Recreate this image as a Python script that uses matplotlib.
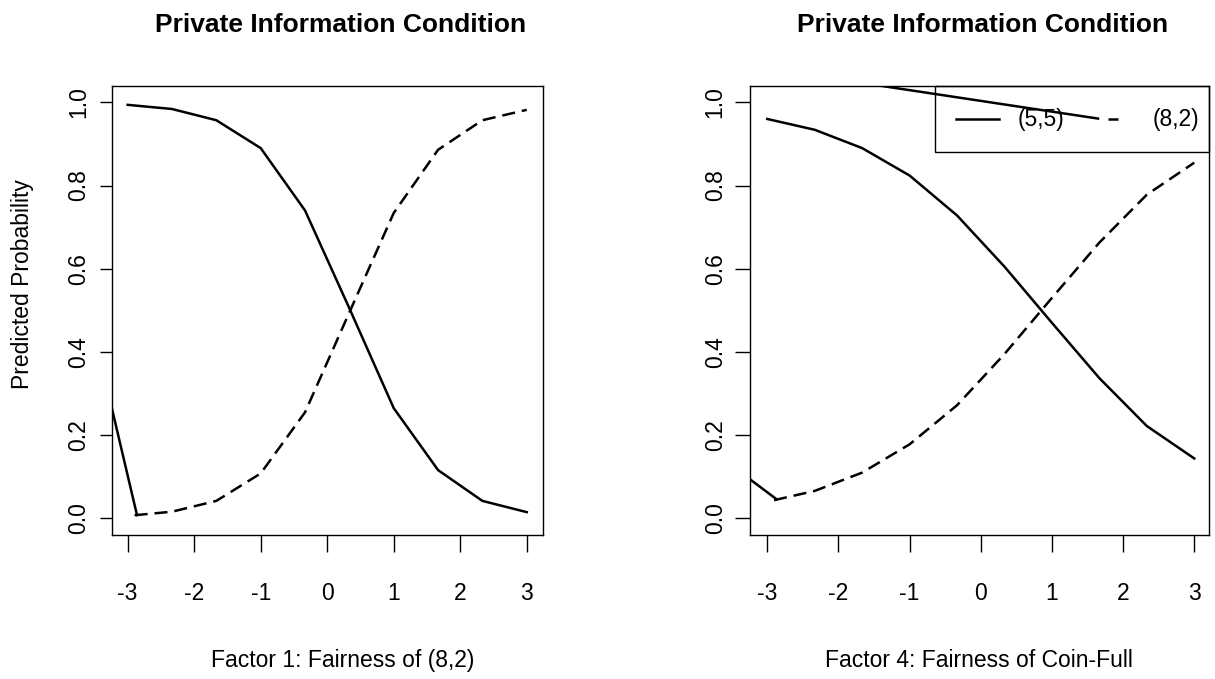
import matplotlib
matplotlib.use("Agg")
import matplotlib.pyplot as plt
from matplotlib.patches import Rectangle
from matplotlib.lines import Line2D

plt.rcParams['font.family'] = ['Liberation Sans', 'DejaVu Sans']
plt.rcParams['axes.unicode_minus'] = False
plt.rcParams['lines.scale_dashes'] = False

# ---------------- data ----------------
x_grid = [-3, -2.333, -1.667, -1, -0.333, 0.333, 1, 1.667, 2.333, 3]

# Factor 1 panel
f1_55 = [0.994, 0.984, 0.957, 0.890, 0.740, 0.505, 0.265, 0.116, 0.042, 0.015]
f1_82 = [0.006, 0.016, 0.042, 0.108, 0.255, 0.495, 0.734, 0.886, 0.957, 0.982]
# Factor 4 panel
f4_55 = [0.960, 0.934, 0.890, 0.824, 0.728, 0.605, 0.470, 0.337, 0.222, 0.144]
f4_82 = [0.040, 0.066, 0.110, 0.178, 0.272, 0.395, 0.530, 0.663, 0.778, 0.855]

# stray connecting strokes visible in the original rendering
f1_stray_x = [-3.40, -2.86]
f1_stray_y = [0.375, 0.008]
f4_stray_x = [-3.40, -2.87]
f4_stray_y = [0.114, 0.046]
f4_stray2_x = [-2.50, 1.647]
f4_stray2_y = [1.068, 0.961]

x_ticks = [-3, -2, -1, 0, 1, 2, 3]
x_tick_labels = ["-3", "-2", "-1", "0", "1", "2", "3"]
y_ticks = [0.0, 0.2, 0.4, 0.6, 0.8, 1.0]
y_tick_labels = ["0.0", "0.2", "0.4", "0.6", "0.8", "1.0"]

title_text = "Private Information Condition"
xlabel_left = "Factor 1: Fairness of (8,2)"
xlabel_right = "Factor 4: Fairness of Coin-Full"
ylabel_text = "Predicted Probability"
legend_labels = ["(5,5)", "(8,2)"]

# ---------------- layout ----------------
W, H = 1215, 679
fig = plt.figure(figsize=(W / 100, H / 100), dpi=100)


def rect(x0, x1, y0, y1):
    return [x0 / W, 1 - y1 / H, (x1 - x0) / W, (y1 - y0) / H]


axL = fig.add_axes(rect(111.7, 542.7, 85.7, 535))
axR = fig.add_axes(rect(750, 1208.5, 85.7, 535))

LW = 1.8
DASH = (9.4, (9.4, 5.0))
FS = 16.5

for ax, s55, s82, sx, sy, xl, ytl, ypad in [
    (axL, f1_55, f1_82, f1_stray_x, f1_stray_y, (-3.24, 3.24), 8.6, 7.0),
    (axR, f4_55, f4_82, f4_stray_x, f4_stray_y, (-3.243, 3.20), 10.8, 6.0),
]:
    ax.plot(x_grid, s55, color='black', lw=LW, solid_joinstyle='miter')
    ax.plot(x_grid, s82, color='black', lw=LW, linestyle=DASH,
            dash_capstyle='butt')
    ax.plot(sx, sy, color='black', lw=LW)
    ax.set_xlim(*xl)
    ax.set_ylim(-0.04, 1.04)
    ax.set_xticks(x_ticks)
    ax.set_xticklabels(x_tick_labels, fontsize=FS)
    ax.set_yticks(y_ticks)
    ax.set_yticklabels(y_tick_labels, fontsize=FS, rotation=90, va='center')
    ax.tick_params(axis='x', direction='out', length=12.2, width=1.0,
                   pad=22, colors='black')
    ax.tick_params(axis='y', direction='out', length=ytl, width=1.0,
                   pad=ypad, colors='black')
    for sp in ax.spines.values():
        sp.set_linewidth(1.0)
        sp.set_color('black')

# stray stroke through the legend of the right panel
axR.plot(f4_stray2_x, f4_stray2_y, color='black', lw=LW, zorder=6)

# legend (right panel)
axR.add_patch(Rectangle((0.4035, 0.8531), 0.5965, 0.1469, transform=axR.transAxes,
                        facecolor='none', edgecolor='black', lw=1.0,
                        clip_on=False, zorder=5))
axR.add_line(Line2D([0.4493, 0.5431], [0.9252, 0.9252], transform=axR.transAxes,
                    color='black', lw=LW, zorder=5))
axR.add_line(Line2D([0.7808, 0.8026], [0.9252, 0.9252], transform=axR.transAxes,
                    color='black', lw=LW, zorder=5, solid_capstyle='butt'))
axR.text(0.5845, 0.9252, legend_labels[0], transform=axR.transAxes,
         fontsize=FS, va='center', ha='left', zorder=5)
axR.text(0.879, 0.9252, legend_labels[1], transform=axR.transAxes,
         fontsize=FS, va='center', ha='left', zorder=5)

# titles and labels
fig.text(341 / W, 1 - 32 / H, title_text, fontsize=19, fontweight='bold',
         ha='center', va='baseline')
fig.text(983 / W, 1 - 32 / H, title_text, fontsize=19, fontweight='bold',
         ha='center', va='baseline')
fig.text(343 / W, 1 - 667 / H, xlabel_left, fontsize=FS,
         ha='center', va='baseline')
fig.text(979 / W, 1 - 667 / H, xlabel_right, fontsize=FS,
         ha='center', va='baseline')
fig.text(22.5 / W, 1 - 284 / H, ylabel_text, fontsize=FS, rotation=90,
         ha='center', va='center')

fig.savefig("out.png", dpi=100)
